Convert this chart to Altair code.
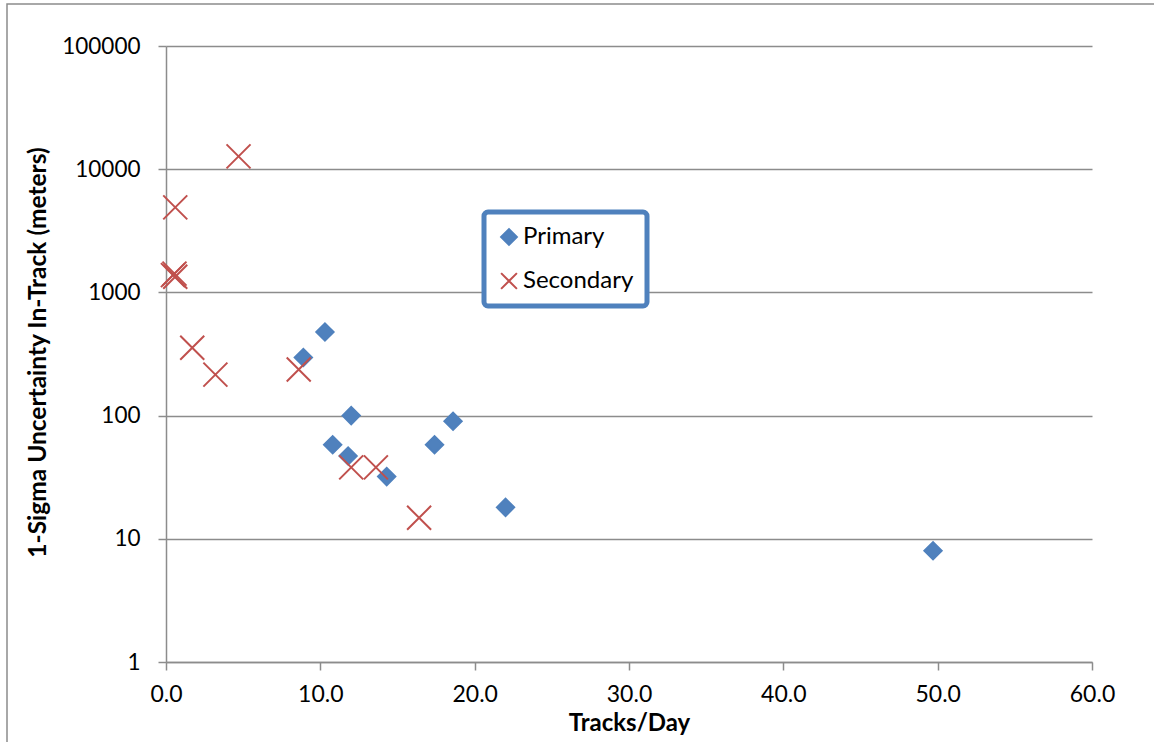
import altair as alt
import pandas as pd

# ---- data ----
primary_x = [8.9, 10.3, 10.8, 11.8, 12.0, 14.3, 17.4, 18.6, 22.0, 49.7]
primary_y = [296, 477, 58, 47, 100, 32, 58, 90, 18, 8]

secondary_x = [0.45, 0.6, 0.55, 0.6, 1.7, 3.2, 4.7, 8.6, 12.0, 13.6, 16.4]
secondary_y = [1380, 1340, 1420, 4900, 355, 215, 12700, 237, 38, 38, 14.8]

series_names = ["Primary", "Secondary"]
x_ticks = [0, 10, 20, 30, 40, 50, 60]
y_ticks = [1, 10, 100, 1000, 10000, 100000]

rows = []
for xv, yv in zip(primary_x, primary_y):
    rows.append({"tracks": xv, "unc": yv, "series": "Primary"})
for xv, yv in zip(secondary_x, secondary_y):
    rows.append({"tracks": xv, "unc": yv, "series": "Secondary"})
df = pd.DataFrame(rows)

FONT = "Lato"
GRID = "#8c8c8c"
BLUE = "#4F81BD"
RED = "#C0504D"
XPATH = "M-1,-1L1,1M1,-1L-1,1"

points = alt.Chart(df).mark_point(filled=False, opacity=1, strokeWidth=2).encode(
    x=alt.X(
        "tracks:Q",
        scale=alt.Scale(domain=[0, 60], nice=False, zero=False),
        axis=alt.Axis(
            values=x_ticks, format=".1f", title="Tracks/Day", grid=False,
            domainColor=GRID, domainWidth=1.5, tickColor=GRID, tickWidth=1.5,
            tickSize=8, labelPadding=13, labelFontSize=23, labelFont=FONT,
            labelFlush=False, labelColor="#000000", titleFont=FONT,
            titleFontSize=24, titleFontWeight="bold", titleColor="#000000",
            titleX=463, titleY=61, titleBaseline="middle", titleAlign="center",
        ),
    ),
    y=alt.Y(
        "unc:Q",
        scale=alt.Scale(type="log", domain=[1, 100000], nice=False),
        axis=alt.Axis(
            values=y_ticks, format="d", title="1-Sigma Uncertainty In-Track (meters)",
            grid=True, gridColor=GRID, gridWidth=1.5, gridOpacity=1,
            domainColor=GRID, domainWidth=1.5, tickColor=GRID, tickWidth=1.5,
            tickSize=8, labelPadding=18, labelFontSize=22.5, labelFont=FONT,
            labelColor="#000000", titleFont=FONT, titleFontSize=24.5,
            titleFontWeight="bold", titleColor="#000000",
            titleX=-128, titleY=306, titleAngle=270, titleBaseline="middle",
            titleAlign="center",
        ),
    ),
    shape=alt.Shape(
        "series:N",
        scale=alt.Scale(domain=series_names, range=["diamond", XPATH]),
        legend=alt.Legend(
            title=None, orient="none", legendX=318, legendY=166,
            padding=13, fillColor="#ffffff", labelFont=FONT, labelFontSize=24,
            labelColor="#000000", symbolSize=250, symbolStrokeWidth=2,
            rowPadding=20, labelOffset=2,
        ),
    ),
    fill=alt.Fill(
        "series:N",
        scale=alt.Scale(domain=series_names, range=[BLUE, "transparent"]),
    ),
    stroke=alt.Stroke(
        "series:N",
        scale=alt.Scale(domain=series_names, range=[BLUE, RED]),
    ),
    size=alt.condition(alt.datum.series == "Primary", alt.value(300), alt.value(576)),
)

frame_df = pd.DataFrame({"k": [0]})
frame = alt.Chart(frame_df).mark_rect(
    fill="transparent", stroke="#8c8c8c", strokeWidth=1.5
).encode(
    x=alt.value(-159), x2=alt.value(1040), y=alt.value(-42), y2=alt.value(720)
)

chart = alt.layer(frame, points).properties(
    width=926, height=616,
    autosize=alt.AutoSizeParams(type="none"),
    padding={"left": 166, "top": 46, "right": 62, "bottom": 80},
    background="#ffffff",
).configure_view(strokeWidth=0).configure_legend(
    strokeColor=BLUE, strokeWidth=5, cornerRadius=4
)

chart.save("out.html", embed_options={"renderer": "svg", "actions": False})
